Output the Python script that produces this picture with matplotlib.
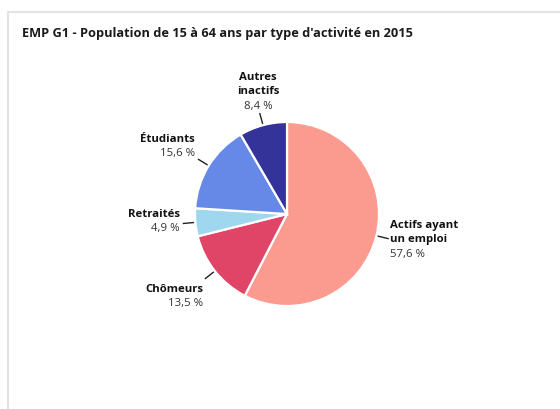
import numpy as np
import matplotlib.pyplot as plt
from matplotlib.patches import Rectangle

# data, clockwise from the top
labels = ["Actifs ayant\nun emploi", "Chômeurs", "Retraités", "Étudiants", "Autres\ninactifs"]
shares = [57.6, 13.5, 4.9, 15.6, 8.4]
colors = ["#fb9a8e", "#e04466", "#9fd8ee", "#6688e6", "#333399"]

plt.rcParams['font.family'] = ['Open Sans', 'DejaVu Sans']

W, H = 560, 410
fig = plt.figure(figsize=(W / 100, H / 100), dpi=100)
ax = fig.add_axes([0, 0, 1, 1])

cx, cy, r = 287, H - 215, 92
wedges, _ = ax.pie(shares, colors=colors, startangle=90, counterclock=False,
                   center=(cx, cy), radius=r, frame=True,
                   wedgeprops=dict(edgecolor='white', linewidth=1.6))
ax.set_xlim(0, W)
ax.set_ylim(0, H)
ax.set_aspect('equal')
ax.axis('off')

# card border
ax.add_patch(Rectangle((7.5, -5), W, H - 12.5 + 5, fill=False, edgecolor="#e3e3e3", linewidth=1.5))

ax.text(22, H - 33, "EMP G1 - Population de 15 à 64 ans par type d'activité en 2015",
        fontsize=9.2, fontweight='bold', color='#1a1a1a', va='center', ha='left')

# label anchor positions (x, y of first line, alignment)
label_pos = [(390, H - 226, 'left'), (203, H - 290, 'right'), (180, H - 215, 'right'),
             (195, H - 140, 'right'), (258, H - 78, 'center')]

for w, lab, val, (tx, ty, ha) in zip(wedges, labels, shares, label_pos):
    mid = np.deg2rad((w.theta1 + w.theta2) / 2)
    x0, y0 = cx + (r + 2) * np.cos(mid), cy + (r + 2) * np.sin(mid)
    x1, y1 = cx + (r + 12) * np.cos(mid), cy + (r + 12) * np.sin(mid)
    ax.plot([x0, x1], [y0, y1], color='#222222', linewidth=1)
    lines = lab.split("\n")
    for i, line in enumerate(lines):
        ax.text(tx, ty - 14 * i, line, fontsize=8.2, fontweight='bold', color='#111111',
                ha=ha, va='center')
    ax.text(tx, ty - 14 * len(lines), ("%.1f %%" % val).replace(".", ","), fontsize=8.2,
            color='#333333', ha=ha, va='center')

fig.savefig("out.png", dpi=100)
